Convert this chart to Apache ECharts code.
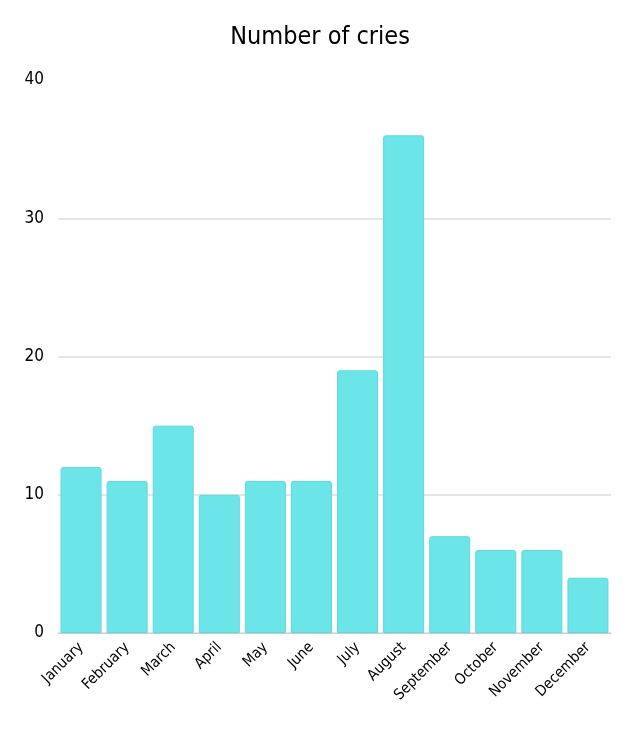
<!DOCTYPE html>
<html><head><meta charset="utf-8">
<script src="https://cdn.jsdelivr.net/npm/echarts@6/dist/echarts.min.js"></script>
<style>html,body{margin:0;padding:0;background:#fff}#c{width:640px;height:733px}</style>
</head><body><div id="c"></div>
<script>
const categories = ["January","February","March","April","May","June","July","August","September","October","November","December"];
const cries = [12, 11, 15, 10, 11, 11, 19, 36, 7, 6, 6, 4];
const yTicks = [0, 10, 20, 30, 40];
const FONT = "'DejaVu Sans Condensed', 'Liberation Sans Narrow', sans-serif";
const chart = echarts.init(document.getElementById('c'));
chart.setOption({
  animation: false,
  title: { text: 'Number of cries', left: 'center', top: 20,
    textStyle: { fontFamily: FONT, fontSize: 25, fontWeight: 'normal', color: '#000' } },
  grid: { left: 58, right: 29, top: 80, bottom: 100 },
  xAxis: { type: 'category', data: categories,
    axisLine: { lineStyle: { color: '#ccc' } }, axisTick: { show: false },
    axisLabel: { rotate: 45, interval: 0, fontFamily: FONT, fontSize: 15, color: '#000', margin: 12 } },
  yAxis: { type: 'value', min: yTicks[0], max: yTicks[yTicks.length-1], interval: 10,
    axisLabel: { fontFamily: FONT, fontSize: 17, color: '#000', margin: 14 },
    splitLine: { lineStyle: { color: '#ddd', width: 1.5 }, showMaxLine: false } },
  series: [{ type: 'bar', data: cries, barCategoryGap: '11%',
    itemStyle: { color: '#6ce5e8', borderColor: '#5fd9dc', borderWidth: 1, borderRadius: [2,2,0,0] } }]
});
</script></body></html>
